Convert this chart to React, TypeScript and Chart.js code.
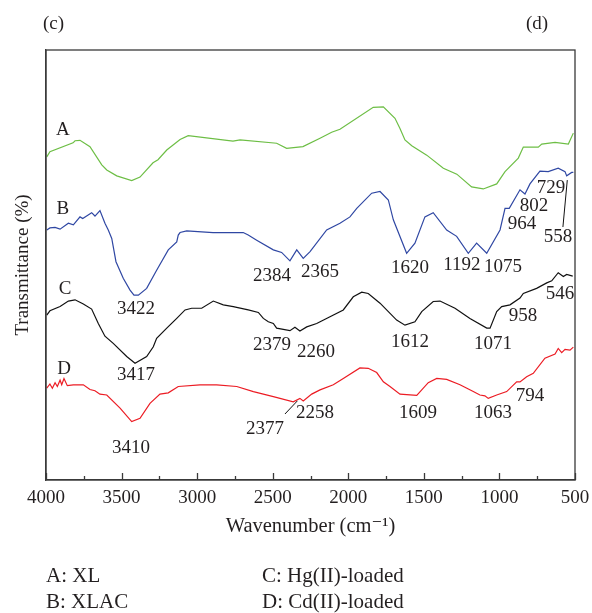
import React, { useEffect, useRef } from "react";
import { Chart, registerables } from "chart.js";

Chart.register(...registerables);

// ---- Spectra (wavenumber in cm^-1, transmittance in arbitrary %, offset stacked) ----
const wnA = [3995, 3974, 3821, 3808, 3775, 3709, 3631, 3598, 3532, 3433, 3378, 3292, 3259, 3201, 3113, 3059, 2763, 2716, 2474, 2408, 2300, 2187, 2110, 2055, 1835, 1768, 1691, 1658, 1625, 1580, 1481, 1371, 1282, 1184, 1107, 1018, 963, 875, 842, 743, 720, 632, 544, 511];
const tA = [76.4, 77.6, 79.7, 80.2, 80.3, 78.8, 74.5, 73.3, 71.9, 70.8, 71.6, 75.0, 75.7, 78.0, 80.5, 81.4, 80.1, 80.4, 79.6, 78.4, 78.8, 80.8, 82.2, 82.9, 88.1, 88.2, 85.5, 83.1, 80.4, 79.0, 76.8, 73.7, 72.3, 69.3, 68.8, 70.0, 72.9, 76.1, 78.7, 78.7, 79.4, 79.8, 79.4, 82.0];

const wnB = [3995, 3974, 3940, 3907, 3852, 3819, 3775, 3757, 3698, 3676, 3643, 3610, 3588, 3565, 3537, 3489, 3444, 3418, 3389, 3334, 3268, 3191, 3135, 3125, 3113, 3069, 2895, 2695, 2662, 2606, 2496, 2441, 2386, 2341, 2298, 2253, 2143, 2055, 1989, 1944, 1845, 1790, 1735, 1702, 1614, 1559, 1493, 1438, 1349, 1283, 1206, 1151, 1084, 996, 963, 935, 864, 831, 798, 732, 677, 611, 566, 555, 522, 511];
const tB = [59.1, 59.6, 59.7, 59.3, 60.7, 60.3, 62.2, 61.8, 63.2, 62.4, 63.7, 60.7, 59.1, 57.1, 51.6, 47.7, 44.9, 43.7, 43.7, 45.3, 49.6, 54.4, 56.3, 57.9, 58.5, 58.9, 58.5, 58.5, 57.9, 56.7, 54.4, 53.8, 51.8, 54.4, 52.4, 54.0, 59.1, 60.7, 62.2, 64.2, 67.8, 68.2, 66.2, 61.5, 53.6, 56.0, 62.2, 63.2, 59.1, 57.6, 53.6, 56.0, 53.6, 59.1, 64.2, 64.2, 68.6, 67.6, 70.0, 73.0, 72.9, 73.7, 72.9, 71.9, 72.7, 72.7];

const wnC = [3995, 3974, 3907, 3852, 3808, 3753, 3698, 3654, 3610, 3555, 3466, 3411, 3334, 3290, 3268, 3201, 3135, 3080, 3036, 2970, 2893, 2827, 2761, 2662, 2595, 2562, 2529, 2496, 2474, 2386, 2353, 2320, 2275, 2209, 2121, 2033, 1967, 1911, 1868, 1790, 1680, 1625, 1559, 1514, 1438, 1393, 1294, 1195, 1084, 1062, 1018, 985, 930, 864, 842, 754, 687, 654, 611, 577, 555, 515];
const tC = [39.0, 40.0, 41.0, 42.3, 42.6, 41.6, 40.4, 37.0, 34.0, 32.3, 29.2, 27.6, 29.2, 31.5, 33.5, 35.9, 38.2, 40.2, 40.6, 40.6, 42.3, 41.4, 41.0, 40.2, 39.6, 38.2, 37.4, 37.0, 35.9, 35.3, 36.1, 35.2, 36.2, 37.0, 38.6, 40.2, 43.3, 44.4, 44.1, 41.8, 37.8, 36.6, 37.4, 39.8, 42.2, 42.3, 40.6, 38.2, 35.9, 35.9, 39.8, 41.0, 41.4, 43.0, 44.1, 45.3, 46.6, 47.1, 49.0, 48.1, 48.6, 48.2];

const wnD = [3995, 3974, 3958, 3940, 3925, 3907, 3896, 3881, 3859, 3819, 3753, 3709, 3676, 3643, 3598, 3510, 3433, 3378, 3312, 3246, 3191, 3125, 2981, 2871, 2738, 2628, 2496, 2364, 2320, 2298, 2242, 2187, 2099, 2033, 1923, 1868, 1812, 1768, 1724, 1658, 1547, 1471, 1415, 1349, 1261, 1173, 1129, 1096, 1074, 1018, 952, 886, 864, 820, 776, 699, 632, 611, 588, 566, 533, 511];
const tD = [21.7, 22.7, 21.7, 23.0, 22.1, 23.6, 22.5, 24.0, 22.3, 22.5, 22.5, 21.4, 21.1, 20.3, 20.1, 17.0, 13.8, 14.6, 18.1, 20.3, 20.6, 22.1, 22.5, 22.5, 22.1, 20.9, 19.7, 18.5, 19.3, 18.7, 20.3, 21.3, 22.5, 24.0, 26.5, 26.4, 25.4, 23.2, 22.1, 20.3, 20.0, 23.0, 24.0, 23.8, 22.5, 20.9, 20.1, 19.9, 19.3, 20.1, 20.9, 23.2, 23.2, 24.4, 25.2, 28.8, 29.8, 31.1, 30.1, 30.9, 30.7, 31.4];

// ---- Curve letters ----
const curveLetters = ["A", "B", "C", "D"];
const curveLetterWn = [3888, 3888, 3874, 3881];
const curveLetterT = [83.2, 64.5, 45.6, 26.7];

// ---- Peak annotations ----
const peakText = ["3422", "2384", "2365", "1620", "1192", "1075", "964", "802", "729", "558", "3417", "2379", "2260", "1612", "1071", "958", "546", "3410", "2377", "2258", "1609", "1063", "794"];
const peakWn = [3405, 2505, 2187, 1592, 1248, 976, 851, 771, 659, 613, 3405, 2505, 2214, 1592, 1043, 844, 599, 3438, 2551, 2220, 1539, 1043, 798];
const peakT = [40.7, 48.5, 49.6, 50.4, 51.1, 50.6, 60.8, 65.2, 69.3, 57.9, 25.1, 32.2, 30.7, 32.9, 32.6, 39.2, 44.4, 8.0, 12.5, 16.3, 16.1, 16.1, 20.3];

// leader lines
const leaderWnFrom = [551, 2419];
const leaderTFrom = [70.9, 15.6];
const leaderWnTo = [580, 2337];
const leaderTTo = [59.8, 18.7];

const legendLeft = ["A: XL", "B: XLAC"];
const legendRight = ["C: Hg(II)-loaded", "D: Cd(II)-loaded"];
const panelLeft = "(c)";
const panelRight = "(d)";

const xTicksMajor = [4000, 3500, 3000, 2500, 2000, 1500, 1000, 500];

const FONT = "'Liberation Serif', 'DejaVu Serif', serif";
const TXT = "#231f20";

const toPts = (wn: number[], t: number[]) => wn.map((x, i) => ({ x, y: t[i] }));

const overlay = {
  id: "overlay",
  afterDraw(chart: any) {
    const { ctx, chartArea, scales } = chart;
    const x = scales.x;
    const y = scales.y;
    ctx.save();
    ctx.strokeStyle = "#3a3a3a";
    ctx.lineWidth = 1.3;
    ctx.strokeRect(chartArea.left, chartArea.top, chartArea.right - chartArea.left, chartArea.bottom - chartArea.top);
    for (let v = 500; v <= 4000; v += 250) {
      const px = Math.round(x.getPixelForValue(v)) + 0.5;
      const len = v % 500 === 0 ? 7 : 4;
      ctx.beginPath();
      ctx.moveTo(px, chartArea.bottom);
      ctx.lineTo(px, chartArea.bottom - len);
      ctx.stroke();
    }
    ctx.fillStyle = TXT;
    ctx.font = `19px ${FONT}`;
    ctx.textAlign = "center";
    ctx.textBaseline = "alphabetic";
    const off = 6.5;
    curveLetters.forEach((s, i) => {
      ctx.fillText(s, x.getPixelForValue(curveLetterWn[i]), y.getPixelForValue(curveLetterT[i]) + off);
    });
    peakText.forEach((s, i) => {
      ctx.fillText(s, x.getPixelForValue(peakWn[i]), y.getPixelForValue(peakT[i]) + off);
    });
    ctx.strokeStyle = "#111";
    ctx.lineWidth = 1;
    leaderWnFrom.forEach((w, i) => {
      ctx.beginPath();
      ctx.moveTo(x.getPixelForValue(w), y.getPixelForValue(leaderTFrom[i]));
      ctx.lineTo(x.getPixelForValue(leaderWnTo[i]), y.getPixelForValue(leaderTTo[i]));
      ctx.stroke();
    });
    ctx.textAlign = "left";
    ctx.fillText(panelLeft, 43, 29);
    ctx.fillText(panelRight, 526, 29);
    ctx.font = `21px ${FONT}`;
    ctx.fillText(legendLeft[0], 46, 582);
    ctx.fillText(legendLeft[1], 46, 608);
    ctx.fillText(legendRight[0], 262, 582);
    ctx.fillText(legendRight[1], 262, 608);
    ctx.restore();
  },
};

export default function App() {
  const ref = useRef<HTMLCanvasElement | null>(null);
  useEffect(() => {
    if (!ref.current) return;
    const chart = new Chart(ref.current, {
      type: "line",
      data: {
        datasets: [
          { label: "A: XL", data: toPts(wnA, tA), borderColor: "#6dbe45", borderWidth: 1.2, pointRadius: 0, tension: 0, fill: false },
          { label: "B: XLAC", data: toPts(wnB, tB), borderColor: "#2f47a3", borderWidth: 1.2, pointRadius: 0, tension: 0, fill: false },
          { label: "C: Hg(II)-loaded", data: toPts(wnC, tC), borderColor: "#111111", borderWidth: 1.2, pointRadius: 0, tension: 0, fill: false },
          { label: "D: Cd(II)-loaded", data: toPts(wnD, tD), borderColor: "#ec1c24", borderWidth: 1.2, pointRadius: 0, tension: 0, fill: false },
        ],
      },
      options: {
        responsive: false,
        animation: false,
        events: [],
        layout: { padding: { left: 0, top: 50, right: 17, bottom: 0 } },
        plugins: { legend: { display: false }, tooltip: { enabled: false } },
        scales: {
          x: {
            type: "linear",
            min: 500,
            max: 4000,
            reverse: true,
            afterFit: (s: any) => { s.height = 133; s.paddingLeft = 0; s.paddingRight = 0; },
            afterBuildTicks: (s: any) => { s.ticks = xTicksMajor.map((v) => ({ value: v })); },
            grid: { display: false, drawTicks: false },
            border: { display: true, color: "#3a3a3a", width: 1.3 },
            ticks: {
              color: TXT,
              font: { family: FONT, size: 19 },
              padding: 7,
              maxRotation: 0,
              autoSkip: false,
              callback: (v: any) => String(v),
            },
            title: { display: true, text: "Wavenumber (cm⁻¹)", color: TXT, font: { family: FONT, size: 20.5 }, padding: { top: 0, bottom: 74 } },
          },
          y: {
            type: "linear",
            min: 0,
            max: 101.65,
            afterFit: (s: any) => { s.width = 46; s.paddingTop = 0; s.paddingBottom = 0; },
            grid: { display: false, drawTicks: false },
            border: { display: true, color: "#3a3a3a", width: 1.3 },
            ticks: { display: false },
            title: { display: true, text: "Transmittance (%)", color: TXT, font: { family: FONT, size: 19 }, padding: { top: 12, bottom: 0 } },
          },
        },
      },
      plugins: [overlay],
    });
    return () => chart.destroy();
  }, []);
  return (
    <div style={{ position: "absolute", left: 0, top: 0, width: 592, height: 613, background: "#fff" }}>
      <canvas ref={ref} width={592} height={613} style={{ display: "block", width: 592, height: 613 }} />
    </div>
  );
}
